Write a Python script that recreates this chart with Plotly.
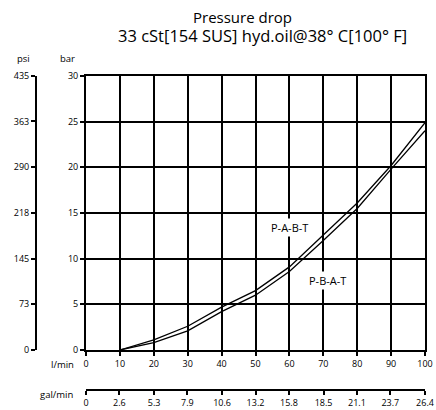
import plotly.graph_objects as go

# Data
flow_lpm = [10, 20, 30, 40, 50, 60, 70, 80, 90, 100]
pabt_bar = [0, 1.1, 2.6, 4.7, 6.5, 9.1, 12.6, 16.1, 20.2, 24.9]
pbat_bar = [0, 0.8, 2.1, 4.2, 6.0, 8.6, 12.0, 15.5, 19.8, 24.0]

lpm_ticks = [0, 10, 20, 30, 40, 50, 60, 70, 80, 90, 100]
gal_ticks = [0, 2.6, 5.3, 7.9, 10.6, 13.2, 15.8, 18.5, 21.1, 23.7, 26.4]
bar_ticks = [0, 5, 10, 15, 20, 25, 30]
psi_ticks = [0, 73, 145, 218, 290, 363, 435]

W, H = 436, 410
ML, MR, MT, MB = 36, 11, 76, 20
PW, PH = W - ML - MR, H - MT - MB


def px(x):
    return (x - ML) / PW


def py(y):
    return (H - MB - y) / PH


FONT = "Open Sans"
fig = go.Figure()
fig.add_trace(go.Scatter(x=flow_lpm, y=pabt_bar, mode="lines",
                         line=dict(color="black", width=1.3), name="P-A-B-T"))
fig.add_trace(go.Scatter(x=flow_lpm, y=pbat_bar, mode="lines",
                         line=dict(color="black", width=1.3), name="P-B-A-T"))
# invisible traces to activate secondary axes
fig.add_trace(go.Scatter(x=[0, 26.4], y=[0, 0], xaxis="x2", yaxis="y", mode="lines",
                         line=dict(width=0), hoverinfo="skip", showlegend=False))
fig.add_trace(go.Scatter(x=[0, 100], y=[0, 435], xaxis="x", yaxis="y2", mode="lines",
                         line=dict(width=0), hoverinfo="skip", showlegend=False))

xdom = [px(86), 1]
ydom = [py(350), 1]
tickfont = dict(family=FONT, size=9, color="black")

common = dict(ticks="outside", ticklen=4, tickwidth=2, tickcolor="black",
              tickfont=tickfont, zeroline=False, automargin=False,
              showline=True, linecolor="black", linewidth=2)

fig.update_layout(
    width=W, height=H,
    margin=dict(l=ML, r=MR, t=MT, b=MB, autoexpand=False),
    paper_bgcolor="white", plot_bgcolor="white",
    showlegend=False,
    font=dict(family=FONT, color="black"),
    xaxis=dict(domain=xdom, range=[0, 100], tickvals=lpm_ticks,
               showgrid=True, gridcolor="black", gridwidth=2, mirror=True,
               anchor="y", **common),
    yaxis=dict(domain=ydom, range=[0, 30], tickvals=bar_ticks,
               showgrid=True, gridcolor="black", gridwidth=2, mirror=True,
               anchor="x", **common),
    xaxis2=dict(domain=xdom, range=[0, 26.4], tickvals=gal_ticks,
                ticktext=[str(v) for v in gal_ticks],
                overlaying="x", anchor="free", position=0, side="bottom",
                showgrid=False, **common),
    yaxis2=dict(domain=ydom, range=[0, 435], tickvals=psi_ticks,
                overlaying="y", anchor="free", position=0, side="left",
                showgrid=False, **common),
)

ann = [
    dict(text="Pressure drop", x=px(242), y=py(17.5), size=15),
    dict(text="33 cSt[154 SUS] hyd.oil@38° C[100° F]", x=px(262), y=py(35.5), size=16.5),
    dict(text="psi", x=px(23), y=py(59), size=9.5),
    dict(text="bar", x=px(67), y=py(59), size=9.5),
    dict(text="l/min", x=px(62), y=py(364), size=9.5),
    dict(text="gal/min", x=px(57), y=py(394), size=9.5),
]
for a in ann:
    fig.add_annotation(text=a["text"], x=a["x"], y=a["y"], xref="paper", yref="paper",
                       showarrow=False, xanchor="center", yanchor="middle",
                       font=dict(family=FONT, size=a["size"], color="black"))

fig.add_annotation(text="P-A-B-T", x=60, y=pabt_bar[5] + 4.3, xref="x", yref="y",
                   showarrow=False, bgcolor="white", borderpad=1,
                   font=dict(family=FONT, size=11, color="black"))
fig.add_annotation(text="P-B-A-T", x=71.2, y=pbat_bar[5] - 1.0, xref="x", yref="y",
                   showarrow=False, bgcolor="white", borderpad=1,
                   font=dict(family=FONT, size=11, color="black"))

fig.write_html("out.html", config={"displayModeBar": False},
               post_script="document.body.style.margin='0px';")
